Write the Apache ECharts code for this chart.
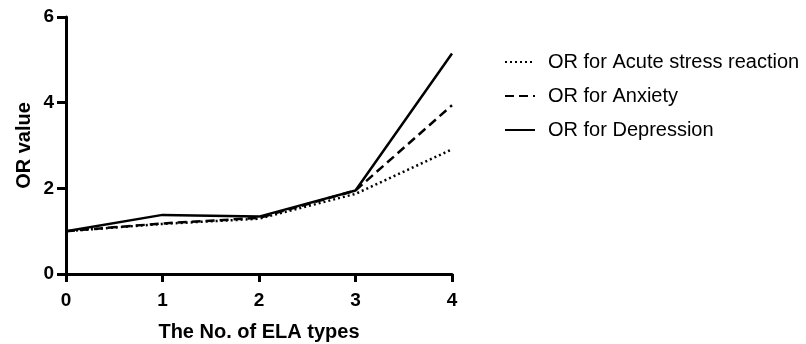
<!DOCTYPE html>
<html><head><meta charset="utf-8">
<script src="https://cdn.jsdelivr.net/npm/echarts@6/dist/echarts.min.js"></script>
<style>html,body{margin:0;padding:0;background:#fff}#c{width:806px;height:344px}</style>
</head><body><div id="c"></div>
<script>
const categories = [0, 1, 2, 3, 4];
const acute = [1.0, 1.17, 1.29, 1.87, 2.91];
const anxiety = [1.0, 1.18, 1.31, 1.95, 3.94];
const depression = [1.0, 1.38, 1.34, 1.95, 5.15];
const seriesNames = ['OR for Acute stress reaction', 'OR for Anxiety', 'OR for Depression'];
const yTicks = [0, 2, 4, 6];

const font = 'Arial, "Liberation Sans", Helvetica, sans-serif';
const chart = echarts.init(document.getElementById('c'));
function mk(name, data, type, width) {
  return {
    name, type: 'line', data: categories.map((c, i) => [c, data[i]]),
    symbol: 'none', animation: false,
    lineStyle: { color: '#000', width: width, type: type },
    itemStyle: { color: '#000' }
  };
}
chart.setOption({
  animation: false,
  grid: { left: 66, right: 354, top: 17, bottom: 70, containLabel: false, outerBoundsMode: 'none' },
  xAxis: {
    type: 'value', min: 0, max: 4, interval: 1,
    name: 'The No. of ELA types', nameLocation: 'middle', nameGap: 48,
    nameTextStyle: { fontFamily: font, fontWeight: 'bold', fontSize: 20, color: '#000' },
    axisLine: { lineStyle: { color: '#000', width: 3 } },
    axisTick: { lineStyle: { color: '#000', width: 3 }, length: 8 },
    axisLabel: { fontFamily: font, fontWeight: 'bold', fontSize: 19, color: '#000', margin: 17 },
    splitLine: { show: false }
  },
  yAxis: {
    type: 'value', min: 0, max: 6, interval: 2,
    name: 'OR value', nameLocation: 'middle', nameGap: 32,
    nameTextStyle: { fontFamily: font, fontWeight: 'bold', fontSize: 20, color: '#000' },
    axisLine: { show: true, lineStyle: { color: '#000', width: 3 } },
    axisTick: { show: true, lineStyle: { color: '#000', width: 3 }, length: 9 },
    axisLabel: { fontFamily: font, fontWeight: 'bold', fontSize: 19, color: '#000', margin: 12,
      formatter: v => yTicks.includes(v) ? String(v) : '' },
    splitLine: { show: false }
  },
  legend: {
    orient: 'vertical', left: 499, top: 47, itemWidth: 30, itemHeight: 10, itemGap: 14,
    itemStyle: { opacity: 0 },
    textStyle: { fontFamily: font, fontSize: 20, color: '#000', padding: [0, 0, 0, 8] },
    data: seriesNames.map(n => ({ name: n }))
  },
  series: [
    mk(seriesNames[0], acute, [2, 3], 2.5),
    mk(seriesNames[1], anxiety, [9, 5], 2.5),
    mk(seriesNames[2], depression, 'solid', 2.5)
  ]
});
</script></body></html>
